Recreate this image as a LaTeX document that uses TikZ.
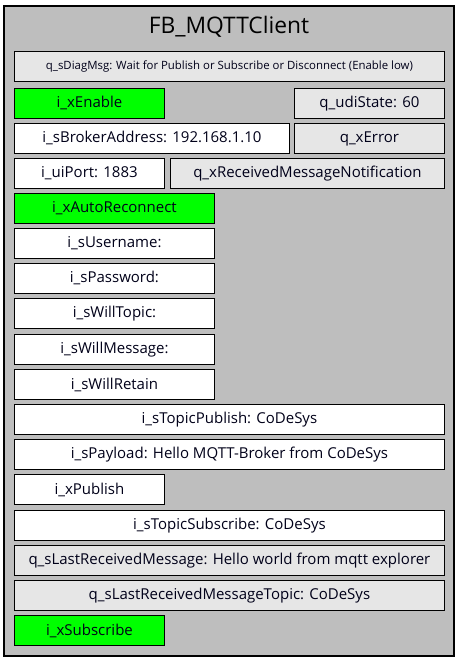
\documentclass[tikz,border=0pt]{standalone}
\usepackage{fontspec}
\setmainfont{Open Sans}
\definecolor{panelgray}{RGB}{190,190,190}
\definecolor{outgray}{RGB}{230,230,230}
\definecolor{ingreen}{RGB}{0,255,0}
\tikzset{
  fbbox/.style={draw=black, line width=0.9pt, anchor=north west, minimum height=30pt, inner sep=0pt, font=\fontsize{15}{17}\selectfont, text=black!90!blue},
  inwhite/.style={fbbox, fill=white},
  ingreenbox/.style={fbbox, fill=ingreen},
  outbox/.style={fbbox, fill=outgray},
}
\begin{document}
\begin{tikzpicture}[x=1pt,y=-1pt]
\useasboundingbox (0,0) rectangle (460,662);
\draw[fill=panelgray, line width=1.3pt] (4,6) rectangle (454,656);
\node[font=\fontsize{22.8}{26}\selectfont] (title) at (229,27) {FB\_MQTTClient};
\node[outbox, minimum width=430pt, font=\fontsize{11.4}{13}\selectfont] (diag) at (14,51) {q\_sDiagMsg: Wait for Publish or Subscribe or Disconnect (Enable low)};
\node[ingreenbox, minimum width=150pt] (enable) at (14,88) {i\_xEnable};
\node[outbox, minimum width=150pt] (state) at (294,88) {q\_udiState: 60};
\node[inwhite, minimum width=275pt] (broker) at (14,123) {i\_sBrokerAddress: 192.168.1.10};
\node[outbox, minimum width=150pt] (err) at (294,123) {q\_xError};
\node[inwhite, minimum width=150pt] (port) at (14,158) {i\_uiPort: 1883};
\node[outbox, minimum width=274pt] (notif) at (170,158) {q\_xReceivedMessageNotification};
\node[ingreenbox, minimum width=200pt] (recon) at (14,193) {i\_xAutoReconnect};
\node[inwhite, minimum width=200pt] (user) at (14,228) {i\_sUsername:};
\node[inwhite, minimum width=200pt] (pass) at (14,263) {i\_sPassword:};
\node[inwhite, minimum width=200pt] (wtopic) at (14,298) {i\_sWillTopic:};
\node[inwhite, minimum width=200pt] (wmsg) at (14,334) {i\_sWillMessage:};
\node[inwhite, minimum width=200pt] (wret) at (14,369) {i\_sWillRetain};
\node[inwhite, minimum width=430pt] (tpub) at (14,404) {i\_sTopicPublish: CoDeSys};
\node[inwhite, minimum width=430pt] (payload) at (14,439) {i\_sPayload: Hello MQTT-Broker from CoDeSys};
\node[inwhite, minimum width=150pt] (publish) at (14,474) {i\_xPublish};
\node[inwhite, minimum width=430pt] (tsub) at (14,510) {i\_sTopicSubscribe: CoDeSys};
\node[outbox, minimum width=430pt] (lastmsg) at (14,545) {q\_sLastReceivedMessage: Hello world from mqtt explorer};
\node[outbox, minimum width=430pt] (lasttopic) at (14,580) {q\_sLastReceivedMessageTopic: CoDeSys};
\node[ingreenbox, minimum width=150pt] (subscribe) at (14,615) {i\_xSubscribe};
\end{tikzpicture}
\end{document}
